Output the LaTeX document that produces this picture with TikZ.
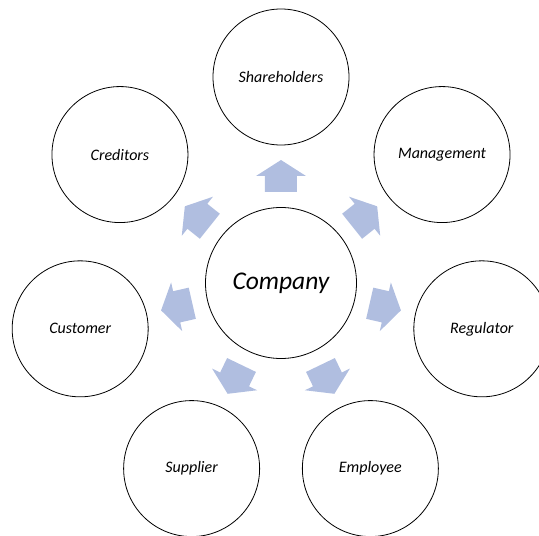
\documentclass[tikz,border=0pt]{standalone}
\usepackage{fontspec}
\setmainfont{Carlito}
\definecolor{arrowblue}{RGB}{176,190,224}
\tikzset{
 party/.style={circle, draw=black, line width=0.8pt, minimum size=136pt, inner sep=0pt, font=\itshape\fontsize{16}{19}\selectfont},
}
\begin{document}
\begin{tikzpicture}[x=1pt, y=1pt]
\useasboundingbox (-281,-253) rectangle (258,283);
\node[party, minimum size=151pt, font=\itshape\fontsize{25.5}{30}\selectfont] (company) at (0,0) {Company};
% outer circles and block arrows
\foreach \n/\txt [count=\i from 0] in {share/Shareholders, mgmt/Management, reg/Regulator, emp/Employee, sup/Supplier, cust/Customer, cred/Creditors}{
  \pgfmathsetmacro\ang{90-\i*360/7}
  \node[party] (\n) at (\ang:206) {\txt};
  \fill[arrowblue, rotate=\ang] (91,-16) -- (107,-16) -- (107,-25) -- (123,0) -- (107,25) -- (107,16) -- (91,16) -- cycle;
}
\end{tikzpicture}
\end{document}
